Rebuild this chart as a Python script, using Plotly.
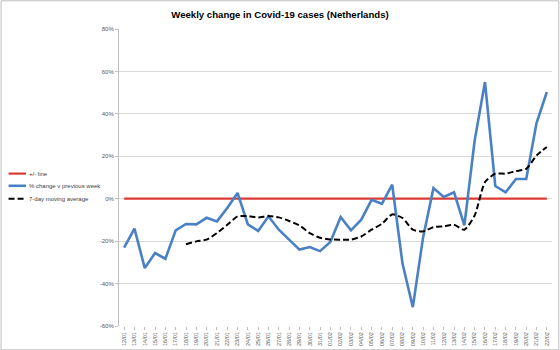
import plotly.graph_objects as go

dates = ["12/01","13/01","14/01","15/01","16/01","17/01","18/01","19/01","20/01","21/01",
         "22/01","23/01","24/01","25/01","26/01","27/01","28/01","29/01","30/01","31/01",
         "01/02","02/02","03/02","04/02","05/02","06/02","07/02","08/02","09/02","10/02",
         "11/02","12/02","13/02","14/02","15/02","16/02","17/02","18/02","19/02","20/02",
         "21/02","22/02"]

pct_change = [-23.1,-14.1,-32.7,-25.6,-28.3,-14.9,-11.9,-12.1,-9.0,-10.7,
              -4.4,2.7,-12.1,-15.2,-8.3,-14.6,-19.3,-24.0,-22.8,-24.7,
              -20.4,-8.6,-14.9,-9.9,-0.5,-2.4,6.6,-30.6,-51.1,-18.1,
              5.0,0.8,3.0,-12.6,27.5,55.0,6.0,3.0,9.3,9.3,
              35.7,50.3]

moving_avg = [None,None,None,None,None,None,-21.5,-20.1,-19.3,-16.2,
              -12.3,-8.3,-8.2,-8.8,-8.2,-8.8,-10.5,-12.6,-16.2,-18.4,
              -19.2,-19.3,-19.3,-17.8,-14.6,-11.8,-7.4,-9.1,-14.6,-15.4,
              -13.4,-13.0,-12.3,-14.6,-7.9,7.9,11.8,11.8,13.0,14.1,
              20.4,24.4]

zero_line = [0] * len(dates)

y_ticks = [-60, -40, -20, 0, 20, 40, 60, 80]
y_labels = ["-60%", "-40%", "-20%", "0%", "20%", "40%", "60%", "80%"]

series_names = ["+/- line", "% change v previous week", "7-day moving average"]
series_colors = ["#dc3b33", "#4a80c4", "#000000"]
series_widths = [2.2, 2.6, 2.0]
series_dash = ["solid", "solid", "6px,3px"]

W, H = 560, 350
ML, MR, MT, MB = 118.5, 8.3, 28.7, 24.3
PW, PH = W - ML - MR, H - MT - MB

fig = go.Figure()
fig.add_trace(go.Scatter(x=dates, y=zero_line, mode="lines", name=series_names[0],
                         line=dict(color=series_colors[0], width=series_widths[0])))
fig.add_trace(go.Scatter(x=dates, y=pct_change, mode="lines", name=series_names[1],
                         line=dict(color=series_colors[1], width=series_widths[1])))
fig.add_trace(go.Scatter(x=dates, y=moving_avg, mode="lines", name=series_names[2],
                         line=dict(color=series_colors[2], width=series_widths[2], dash=series_dash[2],
                                   shape="spline", smoothing=0.6)))

def px_x(p):
    return (p - ML) / PW

def px_y(p):
    return 1 - (p - MT) / PH

fig.update_layout(
    width=W, height=H,
    margin=dict(l=ML, r=MR, t=MT, b=MB, autoexpand=False),
    paper_bgcolor="white", plot_bgcolor="white",
    font=dict(family="Liberation Sans", color="#595959"),
    title=dict(text="<b>Weekly change in Covid-19 cases (Netherlands)</b>",
               x=0.5, xanchor="center", y=1 - 15 / H, yanchor="middle",
               font=dict(family="Liberation Sans Narrow, Liberation Sans", size=9.6, color="#000000")),
    showlegend=False,
    xaxis=dict(type="category", range=[-0.5, len(dates) - 0.5],
               tickangle=-90, tickfont=dict(size=5.5, color="#595959"),
               showgrid=False, showline=False, ticks="outside", ticklen=3,
               tickcolor="#bfbfbf", zeroline=False, fixedrange=True),
    yaxis=dict(range=[-60, 80], tickvals=y_ticks, ticktext=y_labels,
               tickfont=dict(size=6, color="#595959"),
               showgrid=True, gridcolor="#d9d9d9", gridwidth=1,
               showline=True, linecolor="#bfbfbf", linewidth=1,
               ticks="outside", ticklen=3, tickcolor="#bfbfbf",
               zeroline=False, fixedrange=True),
)

# custom compact legend (Excel style) on the left
legend_rows = [173.3, 185.5, 198.5]
for name, col, wdt, dsh, ry in zip(series_names, series_colors, series_widths, series_dash, legend_rows):
    fig.add_shape(type="line", xref="paper", yref="paper",
                  x0=px_x(8), x1=px_x(25.5), y0=px_y(ry), y1=px_y(ry),
                  line=dict(color=col, width=wdt, dash=dsh))
    fig.add_annotation(text=name, xref="paper", yref="paper", x=px_x(26.5), y=px_y(ry),
                       xanchor="left", yanchor="middle", showarrow=False,
                       font=dict(family="Liberation Sans Narrow, Liberation Sans", size=6, color="#404040"))

# outer chart border
fig.add_shape(type="rect", xref="paper", yref="paper",
              x0=px_x(0.5), x1=px_x(W - 1.5), y0=px_y(H - 0.5), y1=px_y(0.5),
              line=dict(color="#bfbfbf", width=1), fillcolor="rgba(0,0,0,0)", layer="below")

fig.write_html("out.html")
